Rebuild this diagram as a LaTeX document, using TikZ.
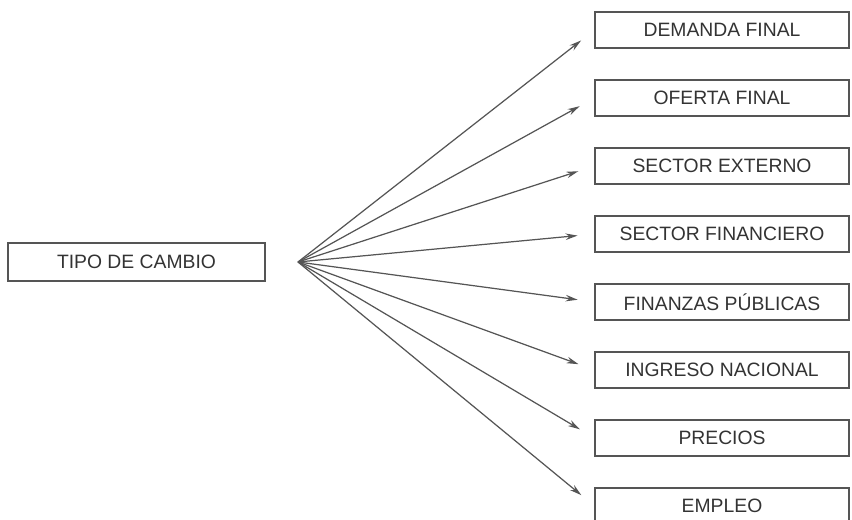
\documentclass[tikz,border=0pt]{standalone}
\usepackage{fontspec}
\setmainfont{Liberation Sans}
\usepackage{tikz}
\usetikzlibrary{arrows.meta}

\definecolor{linegray}{HTML}{555555}
\definecolor{textgray}{HTML}{333333}

\tikzset{
  caja/.style={draw=linegray, line width=0.6pt, text=textgray,
    minimum height=0.72cm, inner sep=0pt, font=\fontsize{11}{13}\selectfont},
  flecha/.style={-{Stealth[length=2.4mm,width=1.3mm]}, draw=linegray,
    line width=0.7pt, shorten >=0.34cm}
}

\begin{document}
\begin{tikzpicture}
      \useasboundingbox (0,0) rectangle (17.04,10.4);
      % origen
      \node[caja, minimum width=5.14cm, minimum height=0.76cm] (tipo) at (2.73,5.16) {TIPO DE CAMBIO};
      \coordinate (o) at (5.96,5.16);
      % destinos
      \node[caja, minimum width=5.08cm] (demanda)    at (14.44,9.80) {DEMANDA FINAL};
      \node[caja, minimum width=5.08cm] (oferta)     at (14.44,8.44) {OFERTA FINAL};
      \node[caja, minimum width=5.08cm] (externo)    at (14.44,7.08) {SECTOR EXTERNO};
      \node[caja, minimum width=5.08cm] (financiero) at (14.44,5.72) {SECTOR FINANCIERO};
      \node[caja, minimum width=5.08cm] (finanzas)   at (14.44,4.36) {FINANZAS PÚBLICAS};
      \node[caja, minimum width=5.08cm] (ingreso)    at (14.44,3.00) {INGRESO NACIONAL};
      \node[caja, minimum width=5.08cm] (precios)    at (14.44,1.64) {PRECIOS};
      \node[caja, minimum width=5.08cm] (empleo)     at (14.44,0.28) {EMPLEO};
      % flechas
      \draw[flecha] (o) -- (demanda.west);
      \draw[flecha] (o) -- (oferta.west);
      \draw[flecha] (o) -- (externo.west);
      \draw[flecha] (o) -- (financiero.west);
      \draw[flecha] (o) -- (finanzas.west);
      \draw[flecha] (o) -- (ingreso.west);
      \draw[flecha] (o) -- (precios.west);
      \draw[flecha] (o) -- (empleo.west);
\end{tikzpicture}
\end{document}
